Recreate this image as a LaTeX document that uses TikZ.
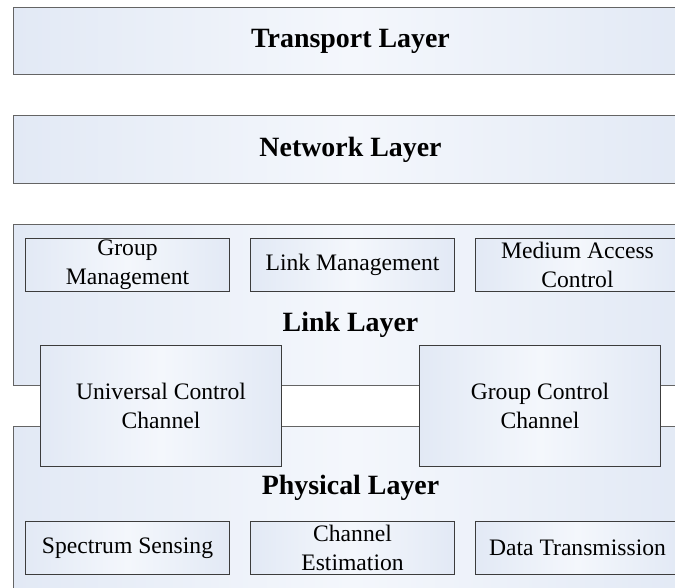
\documentclass[tikz,border=0pt]{standalone}
\usepackage{fontspec}
\setmainfont{Liberation Serif}
\usepackage{tikz}
\usepackage{xcolor}
\usetikzlibrary{positioning}
\definecolor{lyfill}{RGB}{226,233,245}
\definecolor{lylight}{RGB}{244,247,252}
\definecolor{lyedge}{RGB}{100,100,100}
\definecolor{fnedge}{RGB}{60,60,60}
\newcommand{\layerfont}{\fontsize{28}{34}\selectfont\bfseries}
\newcommand{\boxfont}{\fontsize{23.7}{29}\selectfont}
\tikzset{
  layer/.style={draw=lyedge, line width=1bp, left color=lyfill, right color=lyfill, middle color=lylight, minimum width=674bp, inner sep=0pt, font=\layerfont},
  func/.style={draw=fnedge, line width=1bp, left color=lyfill, right color=lyfill, middle color=lylight, minimum width=204bp, minimum height=53bp, inner sep=1bp, align=center, font=\boxfont},
  chan/.style={func, minimum width=241bp, minimum height=121bp},
  title/.style={inner sep=0pt, font=\layerfont}
}
\begin{document}
\begin{tikzpicture}
        \path[use as bounding box, clip] (0,0) rectangle (675bp,-588bp);
        % stacked layers
        \node[layer, minimum height=67bp, anchor=north west] (transport) at (13bp,-7bp) {Transport Layer};
        \node[layer, minimum height=68bp, below=40bp of transport] (network) {Network Layer};
        \node[layer, minimum height=161bp, below=40bp of network] (link) {};
        \node[layer, minimum height=200bp, below=40bp of link] (phys) {};
        % link layer functions
        \node[func, anchor=north west] (gm) at ([xshift=12bp,yshift=-14bp]link.north west) {Group\\Management};
        \node[func, right=20bp of gm] (lm) {Link Management};
        \node[func, right=20bp of lm] (mac) {Medium Access\\Control};
        \node[title] (linktitle) at ([yshift=-101bp]link.north) {Link Layer};
        % physical layer functions
        \node[title] (phystitle) at ([yshift=-62bp]phys.north) {Physical Layer};
        \node[func, anchor=north west] (ss) at ([xshift=12bp,yshift=-95bp]phys.north west) {Spectrum Sensing};
        \node[func, right=20bp of ss] (ce) {Channel\\Estimation};
        \node[func, right=20bp of ce] (dt) {Data Transmission};
        % control channels across both layers
        \node[chan, anchor=north west] (ucc) at ([xshift=27bp,yshift=-121bp]link.north west) {Universal Control\\Channel};
        \node[chan, right=137bp of ucc] (gcc) {Group Control\\Channel};
      \end{tikzpicture}
\end{document}
